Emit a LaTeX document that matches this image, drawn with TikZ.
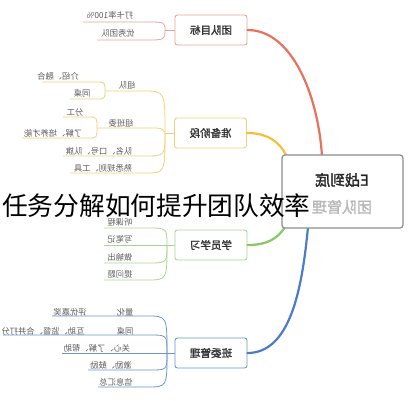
\documentclass[tikz,border=0pt]{standalone}
\usepackage{fontspec}
\setmainfont{Noto Sans CJK SC}
\newfontfamily\bcjk[FakeBold=2]{Noto Sans CJK SC}
\newcommand\mir[1]{\reflectbox{#1}}
\definecolor{redA}{HTML}{E8705F}
\definecolor{redB}{HTML}{E2A597}
\definecolor{yelA}{HTML}{F4C03C}
\definecolor{yelB}{HTML}{F2D079}
\definecolor{grnA}{HTML}{86C766}
\definecolor{grnB}{HTML}{A7D78D}
\definecolor{bluA}{HTML}{4C7CC6}
\definecolor{bluB}{HTML}{6E94C9}
\definecolor{leafgray}{HTML}{5A5A5A}
\begin{document}
\begin{tikzpicture}[x=1pt,y=-1pt,
  box/.style={draw, rounded corners=2.5pt, fill=white, minimum width=72pt, minimum height=30pt,
    line width=0.9pt, inner sep=0pt, font=\bcjk\fontsize{10.5}{12}\selectfont, text=black!80},
  leaf/.style={inner sep=0pt, font=\fontsize{8.3}{10}\selectfont, text=leafgray},
  lk/.style={line width=0.8pt},
  br/.style={line width=2.2pt, line cap=round}]
\useasboundingbox (0,0) rectangle (411,400);

% branch end points at the centre box
\coordinate (er) at (322,156);
\coordinate (ey) at (287,157);
\coordinate (eg) at (285,227);
\coordinate (eb) at (308,227);

% main topic boxes
\node[box, draw=redB] (t1) at (211,30) {\mir{团队目标}};
\node[box, draw=yelB] (t2) at (210.5,133) {\mir{准备阶段}};
\node[box, draw=grnB] (t3) at (211,245) {\mir{学员学习}};
\node[box, draw=bluB] (t4) at (211,353) {\mir{班委管理}};

% main branches
\draw[br, redA] (t1.east) .. controls (292,30) and (318,95) .. (er);
\draw[br, yelA] (t2.east) .. controls (268,133) and (280,142) .. (ey);
\draw[br, grnA] (t3.east) .. controls (268,245) and (278,238) .. (eg);
\draw[br, bluA] (t4.east) .. controls (290,353) and (302,290) .. (eb);

% centre box
\node[draw=black!45, line width=1.2pt, rounded corners=3pt, fill=white,
  minimum width=121pt, minimum height=73pt] (c) at (342.5,191.5) {};
\node[font=\bcjk\fontsize{15}{17}\selectfont, text=black!85] (c1) at (342,180) {\mir{E战到底}};
\node[font=\bcjk\fontsize{15}{17}\selectfont, text=black!28] (c2) at (342,207) {\mir{团队管理}};

% ---------- 团队目标 ----------
\coordinate (fa) at (165,30);
\node[leaf] (a1) at (110,15) {\mir{打卡率100\%}};
\node[leaf] (a2) at (118,33) {\mir{优秀团队}};
\coordinate (a1s) at (83,22); \coordinate (a1e) at (145,22);
\coordinate (a2s) at (97,40); \coordinate (a2e) at (145,40);
\draw[lk, redB] (a1s) -- (a1e) .. controls (165,22) .. (fa);
\draw[lk, redB] (a2s) -- (a2e) .. controls (165,40) .. (fa);
\draw[lk, redB] (fa) -- (t1.west);

% ---------- 准备阶段 ----------
\coordinate (fb) at (165,133);
\coordinate (sb) at (105,91);
\coordinate (sc) at (97,128);
\node[leaf] (b1) at (127,85) {\mir{组队}};
\node[leaf] (b11) at (58,76) {\mir{介绍、融合}};
\node[leaf] (b12) at (82,93) {\mir{同桌}};
\node[leaf] (b2) at (121,123) {\mir{组班委}};
\node[leaf] (b21) at (75,112) {\mir{分工}};
\node[leaf] (b22) at (53,133) {\mir{了解、培养才能}};
\node[leaf] (b3) at (99,151) {\mir{队名、口号、队旗}};
\node[leaf] (b4) at (103,168) {\mir{熟悉规则、工具}};
\coordinate (b1e) at (143,91);
\coordinate (b11s) at (42,82); \coordinate (b11e) at (95,82);
\coordinate (b12s) at (70,99); \coordinate (b12e) at (95,99);
\coordinate (b2e) at (150,128);
\coordinate (b21s) at (63,117); \coordinate (b21e) at (88,117);
\coordinate (b22s) at (22,138); \coordinate (b22e) at (88,138);
\coordinate (b3s) at (63,156); \coordinate (b3e) at (145,156);
\coordinate (b4s) at (70,173); \coordinate (b4e) at (145,173);
\draw[lk, yelB] (sb) -- (b1e) .. controls (165,91) .. (fb);
\draw[lk, yelB] (b11s) -- (b11e) .. controls (105,82) .. (sb);
\draw[lk, yelB] (b12s) -- (b12e) .. controls (105,99) .. (sb);
\draw[lk, yelB] (sc) -- (b2e) .. controls (162,128) .. (fb);
\draw[lk, yelB] (b21s) -- (b21e) .. controls (97,117) .. (sc);
\draw[lk, yelB] (b22s) -- (b22e) .. controls (97,138) .. (sc);
\draw[lk, yelB] (b3s) -- (b3e) .. controls (165,156) .. (fb);
\draw[lk, yelB] (b4s) -- (b4e) .. controls (165,173) .. (fb);
\draw[lk, yelB] (fb) -- (t2.west);

% ---------- 学员学习 ----------
\coordinate (fc) at (167,245);
\node[leaf] (g1) at (120,222) {\mir{听课程}};
\node[leaf] (g2) at (120,239) {\mir{写笔记}};
\node[leaf] (g3) at (120,257) {\mir{做输出}};
\node[leaf] (g4) at (120,274) {\mir{提问题}};
\coordinate (g1s) at (104,228); \coordinate (g1e) at (147,228);
\coordinate (g2s) at (104,245);
\coordinate (g3s) at (104,263); \coordinate (g3e) at (147,263);
\coordinate (g4s) at (104,280); \coordinate (g4e) at (147,280);
\draw[lk, grnB] (g1s) -- (g1e) .. controls (167,228) .. (fc);
\draw[lk, grnB] (g2s) -- (fc);
\draw[lk, grnB] (g3s) -- (g3e) .. controls (167,263) .. (fc);
\draw[lk, grnB] (g4s) -- (g4e) .. controls (167,280) .. (fc);
\draw[lk, grnB] (fc) -- (t3.west);

% ---------- 班委管理 ----------
\coordinate (fd) at (167,353);
\node[leaf] (d1) at (125,312) {\mir{量化}};
\node[leaf] (d1b) at (70,312) {\mir{评优嘉奖}};
\node[leaf] (d2) at (125,331) {\mir{同桌}};
\node[leaf] (d2b) at (43,331) {\mir{互助、监督、合并打分}};
\node[leaf] (d3) at (97,348) {\mir{关心、了解、帮助}};
\node[leaf] (d4) at (111,365) {\mir{激励、鼓励}};
\node[leaf] (d5) at (116,382) {\mir{信息汇总}};
\coordinate (d1s) at (52,316); \coordinate (d1e) at (147,316);
\coordinate (d2s) at (3,335); \coordinate (d2e) at (150,335);
\coordinate (d3s) at (62,353);
\coordinate (d4s) at (88,370); \coordinate (d4e) at (150,370);
\coordinate (d5s) at (98,387); \coordinate (d5e) at (147,387);
\draw[lk, bluB] (d1s) -- (d1e) .. controls (167,316) .. (fd);
\draw[lk, bluB] (d2s) -- (d2e) .. controls (167,335) .. (fd);
\draw[lk, bluB] (d3s) -- (fd);
\draw[lk, bluB] (d4s) -- (d4e) .. controls (167,370) .. (fd);
\draw[lk, bluB] (d5s) -- (d5e) .. controls (167,387) .. (fd);
\draw[lk, bluB] (fd) -- (t4.west);

% overlay title
\node[font=\fontsize{25.7}{28}\selectfont, anchor=west, inner sep=0pt, text=black] (title) at (2,206) {任务分解如何提升团队效率};
\end{tikzpicture}
\end{document}
